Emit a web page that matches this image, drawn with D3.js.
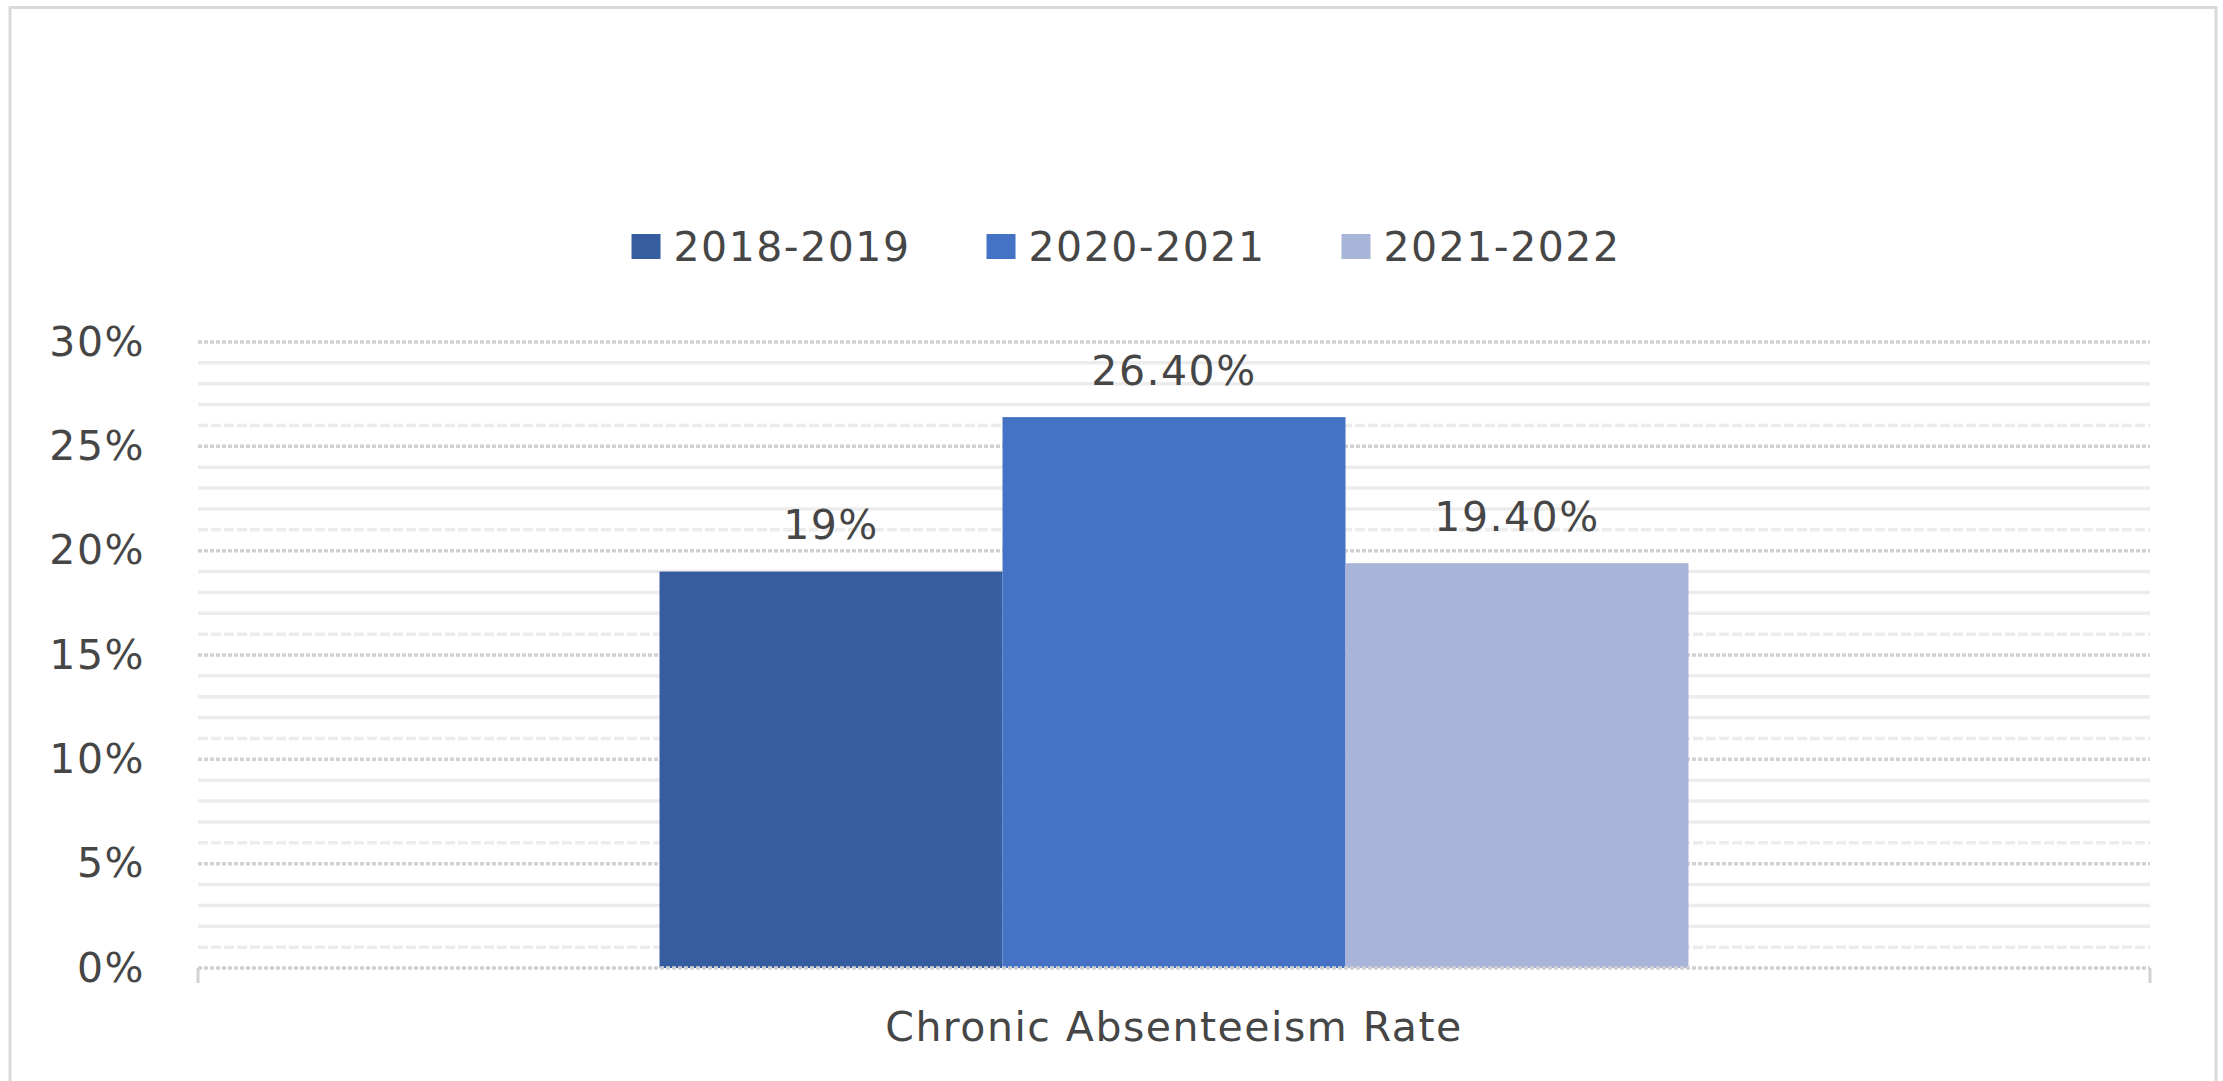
<!DOCTYPE html>
<html>
<head>
<meta charset="utf-8">
<script src="https://cdn.jsdelivr.net/npm/d3@7"></script>
<style>
  body { margin: 0; background: #fff; }
  svg text { font-family: "DejaVu Sans", sans-serif; font-size: 41px; fill: #464646; letter-spacing: 1.5px; }
  .axis path { display: none; }
</style>
</head>
<body>
<svg id="chart" width="2223" height="1081"></svg>
<script>
const width = 2223;
const height = 1081;

const margin = { top: 342, bottom: 113, left: 198, right: 73 };

/* DATA */
const categories = ["Chronic Absenteeism Rate"];
const seriesNames = ["2018-2019", "2020-2021", "2021-2022"];
const seriesValues = [19, 26.4, 19.4];
const valueLabels = ["19%", "26.40%", "19.40%"];
const yTicks = [0, 5, 10, 15, 20, 25, 30];
const colors = ["#365da0", "#4472c4", "#a8b4d8"];

const svg = d3.select("svg#chart");

// outer frame
svg.append("rect")
  .attr("x", 10).attr("y", 7.5)
  .attr("width", 2206).attr("height", 1120)
  .attr("fill", "#fff")
  .attr("stroke", "#d9d9d9")
  .attr("stroke-width", 3);

/* SCALES */
const scales = {
  x: d3.scaleBand().domain(categories).range([margin.left, width - margin.right])
        .paddingInner(0).paddingOuter(0.4485),
  y: d3.scaleLinear().domain([0, 30]).range([height - margin.bottom, margin.top])
};
scales.x1 = d3.scaleBand().domain(seriesNames).range([0, scales.x.bandwidth()]);

/* GRID */
const grid = svg.append("g").attr("id", "grid");
const minor = d3.range(0, 31).filter(d => d % 5 !== 0);

grid.selectAll("line.minor")
  .data(minor)
  .enter()
  .append("line")
  .attr("class", "minor")
  .attr("x1", margin.left).attr("x2", width - margin.right)
  .attr("y1", d => scales.y(d)).attr("y2", d => scales.y(d))
  .attr("stroke", "#ececec")
  .attr("stroke-width", 3.5)
  .attr("stroke-dasharray", d => d % 5 === 1 ? "10,3" : null);

grid.selectAll("line.major")
  .data(yTicks.filter(d => d > 0))
  .enter()
  .append("line")
  .attr("class", "major")
  .attr("x1", margin.left).attr("x2", width - margin.right)
  .attr("y1", d => scales.y(d)).attr("y2", d => scales.y(d))
  .attr("stroke", "#d2d2d2")
  .attr("stroke-width", 3.5)
  .attr("stroke-dasharray", "4,2");

/* BARS */
const barGroup = svg.append("g").attr("id", "bars")
  .attr("transform", translate(scales.x(categories[0]), 0));

barGroup.selectAll("rect")
  .data(seriesNames)
  .enter()
  .append("rect")
  .attr("x", d => scales.x1(d))
  .attr("y", (d, i) => scales.y(seriesValues[i]))
  .attr("width", scales.x1.bandwidth())
  .attr("height", (d, i) => scales.y(0) - scales.y(seriesValues[i]))
  .attr("fill", (d, i) => colors[i]);

barGroup.selectAll("text")
  .data(seriesNames)
  .enter()
  .append("text")
  .attr("x", d => scales.x1(d) + scales.x1.bandwidth() / 2)
  .attr("y", (d, i) => scales.y(seriesValues[i]) - 47)
  .attr("dy", "0.36em")
  .attr("text-anchor", "middle")
  .text((d, i) => valueLabels[i]);

/* AXES */
const xAxisLine = svg.append("g").attr("id", "x-line");
xAxisLine.append("line")
  .attr("x1", margin.left).attr("x2", width - margin.right)
  .attr("y1", scales.y(0)).attr("y2", scales.y(0))
  .attr("stroke", "#d2d2d2").attr("stroke-width", 3.5)
  .attr("stroke-dasharray", "4,2");
xAxisLine.selectAll("line.tick")
  .data(scales.x.range())
  .enter()
  .append("line")
  .attr("class", "tick")
  .attr("x1", d => d).attr("x2", d => d)
  .attr("y1", scales.y(0)).attr("y2", scales.y(0) + 15)
  .attr("stroke", "#d2d2d2").attr("stroke-width", 3);

const xAxis = d3.axisBottom(scales.x).tickSize(0).tickPadding(44);
svg.append("g").attr("class", "axis")
  .attr("transform", translate(0, scales.y(0)))
  .call(xAxis)
  .call(g => g.selectAll("text").attr("fill", null));

const yAxis = d3.axisLeft(scales.y).tickValues(yTicks).tickFormat(d => d + "%").tickSize(0).tickPadding(53);
svg.append("g").attr("class", "axis")
  .attr("transform", translate(margin.left, 0))
  .call(yAxis)
  .call(g => g.selectAll("text").attr("fill", null));
svg.selectAll(".axis").attr("font-size", null).attr("font-family", null);

/* LEGEND */
const legend = svg.append("g").attr("id", "legend");
const items = legend.selectAll("g")
  .data(seriesNames)
  .enter()
  .append("g");

items.append("rect")
  .attr("width", 29).attr("height", 25)
  .attr("y", -12)
  .attr("fill", (d, i) => colors[i]);

items.append("text")
  .attr("x", 42)
  .attr("dy", "0.36em")
  .text(d => d);

const legendGap = 76;
let offset = 0;
items.each(function () {
  const w = 42 + this.querySelector("text").getComputedTextLength();
  d3.select(this).attr("transform", translate(offset, 246));
  offset += w + legendGap;
});
const legendWidth = offset - legendGap;
legend.attr("transform", translate(1126 - legendWidth / 2, 0));

function translate(x, y) {
  return "translate(" + String(x) + "," + String(y) + ")";
}
</script>
</body>
</html>
